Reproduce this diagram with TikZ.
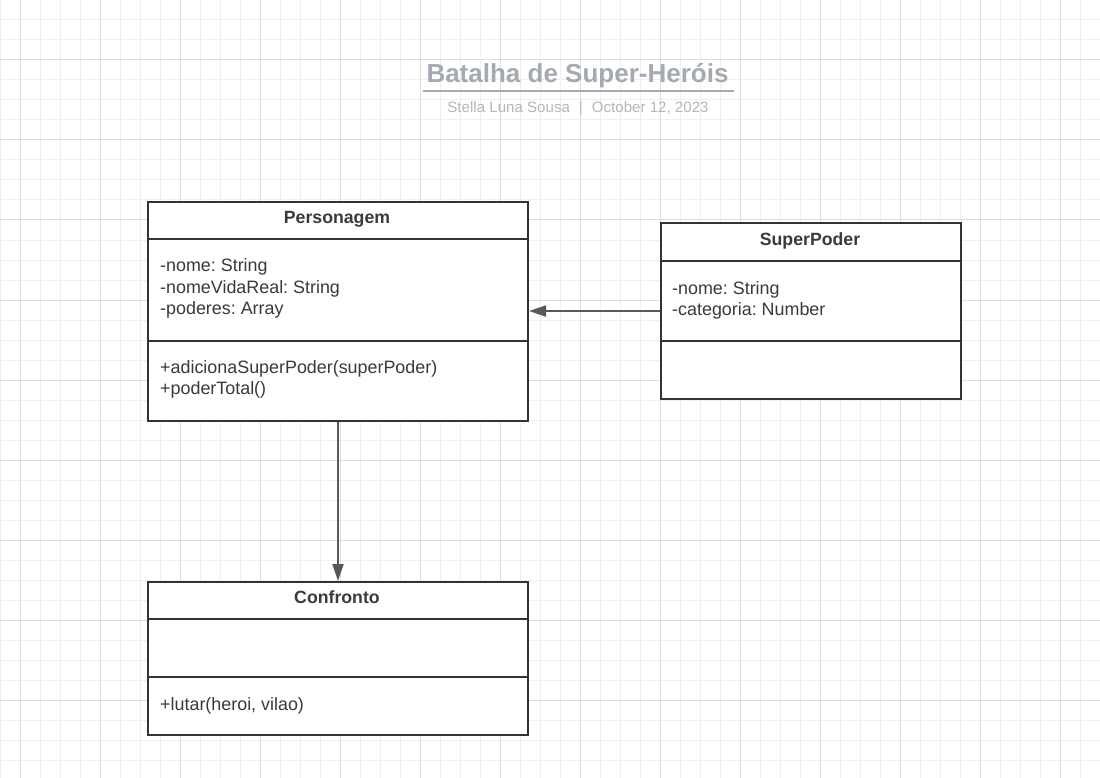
\documentclass[tikz,border=0pt]{standalone}
\usepackage{fontspec}
\setmainfont{Liberation Sans}
\usetikzlibrary{arrows.meta}
\frenchspacing
\definecolor{gridminor}{HTML}{EFEFEF}
\definecolor{gridmajor}{HTML}{DDDDDD}
\definecolor{boxline}{HTML}{333333}
\definecolor{txt}{HTML}{3A3A3A}
\definecolor{arrowc}{HTML}{595959}
\definecolor{titlec}{HTML}{A4A9B2}
\definecolor{subc}{HTML}{B3B7BE}
\tikzset{
  classbox/.style={draw=boxline, line width=2pt, fill=white, inner sep=0pt, anchor=north west},
  divider/.style={draw=boxline, line width=2pt},
  cname/.style={font=\bfseries\fontsize{17.7}{21}\selectfont, text=txt, anchor=base, inner sep=0pt},
  member/.style={font=\fontsize{17.9}{21}\selectfont, text=txt, anchor=base west, inner sep=0pt},
  assoc/.style={draw=arrowc, line width=2pt, -{Triangle[length=17pt, width=11pt]}},
}
\begin{document}
\begin{tikzpicture}[x=1pt,y=-1pt]
\useasboundingbox (0,0) rectangle (1100,778);
\fill[white] (0,0) rectangle (1100,778);
% grid
\foreach \gx in {0,20,...,1100} \draw[gridminor, line width=1pt] (\gx,0) -- (\gx,778);
\foreach \gy in {0,20,...,778} \draw[gridminor, line width=1pt] (0,\gy) -- (1100,\gy);
\foreach \gx in {20,100,...,1100} \draw[gridmajor, line width=1pt] (\gx,0) -- (\gx,778);
\foreach \gy in {60,140,...,778} \draw[gridmajor, line width=1pt] (0,\gy) -- (1100,\gy);
% title
\node[font=\bfseries\fontsize{26}{30}\selectfont, text=titlec, anchor=base, inner sep=0pt] (title) at (577.5,82.3) {Batalha de Super-Heróis};
\draw[titlec, line width=2pt] (423,91.5) coordinate (ulA) -- (734,91.5) coordinate (ulB);
\node[font=\fontsize{15.1}{18}\selectfont, text=subc, anchor=base, inner sep=0pt] (subtitle) at (578,112.3) {Stella Luna Sousa\hspace{9pt}|\hspace{9pt}October 12, 2023};
% Personagem
\node[classbox, minimum width=380pt, minimum height=219pt] (pers) at (147,201) {};
\draw[divider] (147,238.5) -- (527,238.5);
\draw[divider] (147,340.5) -- (527,340.5);
\node[cname] (persname) at (337,223.3) {Personagem};
\node[member] (pa1) at (160,271.7) {-nome: String};
\node[member] (pa2) at (160,293) {-nomeVidaReal: String};
\node[member] (pa3) at (160,314.3) {-poderes: Array};
\node[member] (pm1) at (160,373.3) {+adicionaSuperPoder(superPoder)};
\node[member] (pm2) at (160,394.5) {+poderTotal()};
% SuperPoder
\node[classbox, minimum width=300pt, minimum height=176pt] (sup) at (660,222) {};
\draw[divider] (660,260.5) -- (960,260.5);
\draw[divider] (660,340.5) -- (960,340.5);
\node[cname] (supname) at (810,245.7) {SuperPoder};
\node[member] (sa1) at (672,294) {-nome: String};
\node[member] (sa2) at (672,315.3) {-categoria: Number};
% Confronto
\node[classbox, minimum width=380pt, minimum height=153pt] (conf) at (147,581) {};
\draw[divider] (147,618.5) -- (527,618.5);
\draw[divider] (147,676.5) -- (527,676.5);
\node[cname] (confname) at (337,603.3) {Confronto};
\node[member] (cm1) at (160,710) {+lutar(heroi, vilao)};
% connectors
\draw[assoc] (sup.west) -- (sup.west -| pers.east);
\draw[assoc] (pers.south) -- (conf.north);
\end{tikzpicture}
\end{document}
